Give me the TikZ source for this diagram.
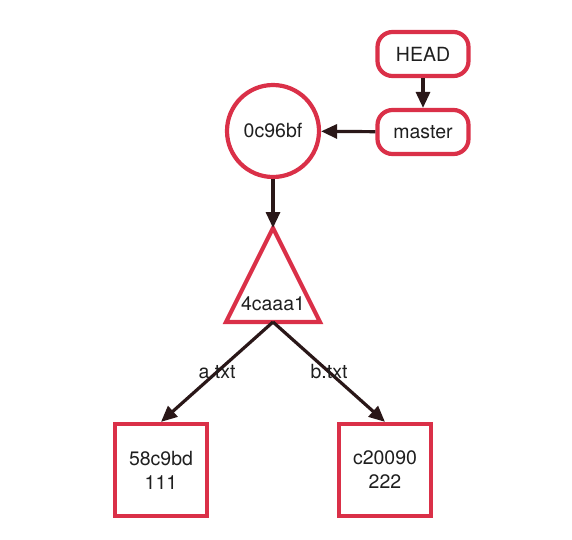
\documentclass[tikz,border=0pt]{standalone}
\usepackage{fontspec}
\setmainfont{TeX Gyre Heros}
\usepackage{tikz}
\usetikzlibrary{arrows.meta,positioning,calc}

\definecolor{gitred}{HTML}{DA3048}
\definecolor{gitdark}{HTML}{2A1718}

\tikzset{
  every node/.style = {font=\fontsize{19.5}{24}\selectfont, text=black!88},
  shapeline/.style  = {draw=gitred, line width=4.2pt},
  refbox/.style     = {shapeline, rounded corners=15pt, minimum width=91pt, minimum height=44pt},
  commit/.style     = {shapeline, circle, minimum size=92pt, inner sep=0pt},
  blob/.style       = {shapeline, minimum size=92pt, align=center, inner sep=0pt},
  ptr/.style        = {gitdark, line width=3.2pt, -{Triangle[length=16pt,width=14pt]}},
  lbl/.style        = {inner sep=1pt}
}

\begin{document}
\begin{tikzpicture} [x = 1pt, y = -1pt]
    \useasboundingbox (0,0) rectangle (572,539);

    \node[refbox] (head)   at (423,54)  {HEAD};      % referencias
    \node[refbox] (master) at (423,132) {master};
    \node[commit] (commit) at (273,131) {0c96bf};    % commit

    % arbol
    \coordinate (treetop)   at (273,228);
    \coordinate (treeleft)  at (226,322);
    \coordinate (treeright) at (320,322);
    \coordinate (treebase)  at (273,322);
    \draw[shapeline, line join=miter] (treetop) -- (treeleft) -- (treeright) -- cycle;
    \node (tree) at (273,304) {4caaa1};

    \draw[ptr] (head) -- (master);
    \draw[ptr] (master) -- (commit);
    \draw[ptr] (commit) -- (treetop);

    \foreach \b/\x/\h/\c/\f in {blobA/161/58c9bd/111/a.txt, blobB/385/c20090/222/b.txt}   % blobs
    {
        \node[blob] (\b) at (\x,470) {\h\\\c};
        \draw[ptr] (treebase) -- (\b.north) node[lbl, midway] (\b-name) {\f};
    }

\end{tikzpicture}
\end{document}
